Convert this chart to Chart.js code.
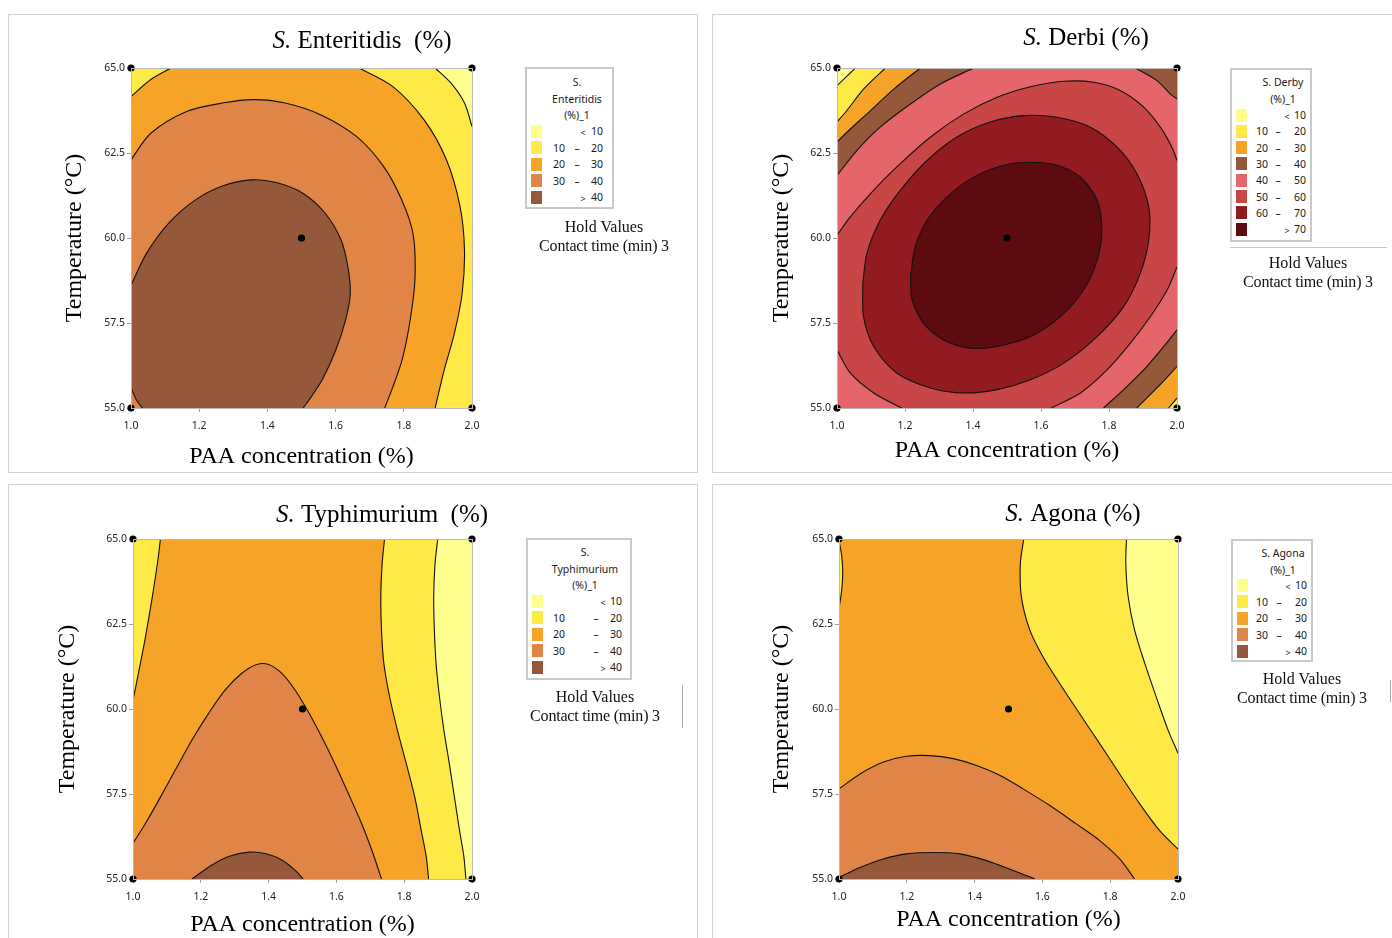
<!DOCTYPE html>
<html>
<head>
<meta charset="utf-8">
<script src="https://cdn.jsdelivr.net/npm/chart.js@4.4.0/dist/chart.umd.min.js"></script>
<style>
html,body{margin:0;padding:0;background:#fff;}
body{width:1392px;height:938px;overflow:hidden;position:relative;}
.panel{position:absolute;border:1px solid #d2d2d2;box-sizing:border-box;}
.cv{position:absolute;}
.lg{position:absolute;border:2px solid #c9c9c9;box-sizing:border-box;background:#fff;}
.t{position:absolute;white-space:nowrap;font-family:'Noto Sans',sans-serif;font-size:10.5px;color:#1a1a1a;line-height:1;}
.sw{position:absolute;width:11px;height:13px;}
.hv{position:absolute;white-space:nowrap;font-family:'Liberation Serif',serif;font-size:16px;color:#111;line-height:1;transform:translate(-50%,-50%);}
.rule{position:absolute;background:#c8c8c8;}
</style>
</head>
<body>
<script>
// ---------------- DATA ----------------
const xRange = [1.0, 2.0];            // PAA concentration (%)
const yRange = [55.0, 65.0];          // Temperature (°C)
const xTicks = [1.0, 1.2, 1.4, 1.6, 1.8, 2.0];
const yTicks = [55.0, 57.5, 60.0, 62.5, 65.0];
const designPoints = [[1.0, 55.0], [1.0, 65.0], [2.0, 55.0], [2.0, 65.0], [1.5, 60.0]];

// S. Enteritidis contour lines [PAA, Temperature]
const ent10  = [[1.892,65.0],[1.938,64.56],[1.978,63.97],[2.0,63.28]];
const ent20a = [[1.0,64.16],[1.058,64.66],[1.117,65.0]];
const ent20b = [[1.669,65.0],[1.767,64.46],[1.859,63.48],[1.925,62.30],[1.965,60.92],[1.978,59.64],[1.971,58.36],[1.948,57.18],[1.918,56.10],[1.892,55.0]];
const ent30  = [[1.0,62.30],[1.058,63.08],[1.163,63.72],[1.268,63.97],[1.360,64.07],[1.452,63.97],[1.557,63.62],[1.662,62.98],[1.741,62.10],[1.794,61.12],[1.827,60.13],[1.833,58.85],[1.820,57.67],[1.796,56.45],[1.768,55.62],[1.744,55.0]];
const ent40a = [[1.0,58.61],[1.045,59.54],[1.110,60.43],[1.189,61.12],[1.268,61.53],[1.353,61.71],[1.426,61.63],[1.505,61.31],[1.570,60.72],[1.616,59.94],[1.636,59.15],[1.643,58.36],[1.629,57.58],[1.600,56.69],[1.562,55.85],[1.530,55.35],[1.505,55.0]];
const ent40b = [[1.0,55.6],[1.015,55.25],[1.033,55.0]];

// S. Derbi contour lines
const der10tl = [[1.054,65.0],[1.0,64.48]];
const der20tl = [[1.142,65.0],[1.078,64.38],[1.029,63.75],[1.0,63.41]];
const der30tl = [[1.245,65.0],[1.167,64.38],[1.088,63.65],[1.029,63.11],[1.0,62.82]];
const der40tl = [[1.402,65.0],[1.304,64.53],[1.216,63.94],[1.127,63.26],[1.059,62.58],[1.0,61.84]];
const der40tr = [[1.877,65.0],[1.941,64.63],[1.980,64.24],[2.0,64.09]];
const der40br = [[2.0,57.30],[1.961,56.81],[1.902,56.12],[1.843,55.54],[1.784,55.0]];
const der30br = [[2.0,56.22],[1.941,55.59],[1.882,55.0]];
const der20br = [[2.0,55.29],[1.975,55.0]];
const der50a = [[1.0,60.08],[1.039,60.62],[1.098,61.30],[1.176,62.09],[1.275,62.97],[1.373,63.65],[1.471,64.14],[1.569,64.45],[1.667,64.61],[1.755,64.58],[1.833,64.34],[1.902,63.85],[1.951,63.26],[1.985,62.67],[2.0,62.28]];
const der50b = [[2.0,59.15],[1.971,58.47],[1.922,57.69],[1.863,56.91],[1.794,56.12],[1.716,55.44],[1.63,55.0]];
const der50c = [[1.19,55.0],[1.108,55.44],[1.039,56.03],[1.0,56.71]];
const der60 = [[1.076,58.67],[1.088,59.55],[1.127,60.52],[1.186,61.40],[1.265,62.28],[1.353,62.97],[1.451,63.41],[1.549,63.60],[1.647,63.55],[1.745,63.26],[1.824,62.67],[1.882,61.89],[1.917,60.91],[1.917,59.94],[1.892,58.96],[1.843,57.98],[1.765,57.10],[1.667,56.32],[1.569,55.83],[1.471,55.54],[1.373,55.44],[1.275,55.59],[1.176,56.03],[1.108,56.81],[1.078,57.69],[1.076,58.67]];
const der70 = [[1.216,58.86],[1.230,59.74],[1.265,60.52],[1.324,61.21],[1.402,61.79],[1.490,62.14],[1.569,62.23],[1.647,62.14],[1.716,61.79],[1.765,61.11],[1.779,60.23],[1.765,59.35],[1.725,58.47],[1.657,57.69],[1.569,57.10],[1.471,56.81],[1.392,56.76],[1.314,57.00],[1.255,57.49],[1.221,58.18],[1.216,58.86]];

// S. Typhimurium contour lines
const typ20l = [[1.081,65.0],[1.072,64.28],[1.057,63.30],[1.037,62.13],[1.018,61.15],[1.0,60.26]];
const typ20r = [[1.742,65.0],[1.735,64.28],[1.731,63.30],[1.733,62.32],[1.740,61.34],[1.757,60.36],[1.780,59.38],[1.806,58.40],[1.831,57.42],[1.850,56.44],[1.865,55.66],[1.872,55.0]];
const typ10r = [[1.899,65.0],[1.891,64.28],[1.887,63.30],[1.889,62.32],[1.894,61.34],[1.904,60.36],[1.917,59.38],[1.933,58.40],[1.948,57.42],[1.963,56.44],[1.976,55.66],[1.982,55.0]];
const typ30 = [[1.0,56.05],[1.037,56.64],[1.076,57.32],[1.125,58.21],[1.174,59.09],[1.223,59.87],[1.272,60.56],[1.321,61.05],[1.365,61.31],[1.400,61.31],[1.439,61.05],[1.478,60.56],[1.517,59.92],[1.556,59.19],[1.595,58.40],[1.635,57.52],[1.674,56.64],[1.708,55.75],[1.733,55.0]];
const typ40 = [[1.174,55.0],[1.233,55.41],[1.282,55.66],[1.341,55.79],[1.390,55.75],[1.439,55.56],[1.478,55.26],[1.502,55.0]];

// S. Agona contour lines
const ago20l = [[1.0,64.95],[1.008,64.5],[1.011,63.99],[1.008,63.5],[1.0,62.95]];
const ago20r = [[1.545,65.0],[1.535,64.28],[1.538,63.30],[1.563,62.32],[1.602,61.53],[1.651,60.75],[1.710,59.86],[1.769,58.98],[1.828,58.09],[1.887,57.21],[1.946,56.42],[2.0,55.88]];
const ago10r = [[1.848,65.0],[1.846,64.28],[1.853,63.30],[1.872,62.32],[1.902,61.34],[1.936,60.35],[1.971,59.37],[2.0,58.70]];
const ago30 = [[1.0,57.65],[1.062,58.09],[1.131,58.44],[1.199,58.61],[1.268,58.63],[1.337,58.54],[1.406,58.34],[1.474,58.05],[1.543,57.65],[1.622,57.16],[1.700,56.62],[1.769,56.13],[1.828,55.59],[1.872,55.0]];
const ago40 = [[1.0,55.05],[1.062,55.34],[1.131,55.59],[1.199,55.74],[1.278,55.78],[1.357,55.74],[1.435,55.54],[1.514,55.25],[1.578,55.0]];

// legend bands
const bands5 = [[null,10],[10,20],[20,30],[30,40],[40,null]];
const bands8 = [[null,10],[10,20],[20,30],[30,40],[40,50],[50,60],[60,70],[70,null]];

// ---------------- STYLE ----------------
const COL = {
  LY:'#FFFF8E', Y:'#FFE946', O:'#F6A328', LB:'#E08447', BR:'#95583A',
  SAL:'#E4666A', RED:'#C94646', DR:'#921B1F', DDR:'#5D0B11'
};
const C_BL=[xRange[0],yRange[0]], C_TL=[xRange[0],yRange[1]], C_TR=[xRange[1],yRange[1]], C_BR=[xRange[1],yRange[0]];
const rev = a => a.slice().reverse();

const panels = [
  {
    box:{left:8,top:14,w:690,h:459}, left:8, top:14, W:689, H:458, L:52, T:54, Yw:71, y2w:225, Xh:64, xtpb:3,
    title:{it:'S.', rest:' Enteritidis  (%)', x:354, y:27},
    bg:'LY',
    regions:[
      {c:'Y',  parts:[C_TL, ent10, C_BR, C_BL]},
      {c:'O',  parts:[ent20a, ent20b, C_BL]},
      {c:'LB', parts:[ent30, C_BL]},
      {c:'BR', parts:[ent40a, rev(ent40b)]}
    ],
    legend:{left:525, top:67, w:89, h:142, title:['S.','Enteritidis','(%)_1'], tx:52, ty0:15, rowY0:64, dy:16.5,
      bands:bands5, colors:['LY','Y','O','LB','BR'], cols:{sw:6, lowR:40, dash:52, highR:78, sym:58},
      hold:{x:604, y:227}}
  },
  {
    box:{left:712,top:14,w:700,h:459}, left:712, top:14, W:690, H:458, L:55, T:54, Yw:70, y2w:225, Xh:64, xtpb:9,
    title:{it:'S.', rest:' Derbi (%)', x:374, y:24},
    bg:'SAL',
    regions:[
      {c:'BR', parts:[C_TL, der40tl]},
      {c:'BR', parts:[C_TR, der40tr]},
      {c:'BR', parts:[C_BR, der40br]},
      {c:'O',  parts:[C_TL, der30tl]},
      {c:'O',  parts:[C_BR, der30br]},
      {c:'Y',  parts:[C_TL, der20tl]},
      {c:'Y',  parts:[C_BR, der20br]},
      {c:'LY', parts:[C_TL, der10tl]},
      {c:'RED', parts:[der50a, der50b, der50c]},
      {c:'DR', parts:[der60]},
      {c:'DDR', parts:[der70]}
    ],
    legend:{left:1230, top:68, w:82, h:174, title:['S. Derby','(%)_1'], tx:53, ty0:14, rowY0:47, dy:16.3,
      bands:bands8, colors:['LY','Y','O','BR','SAL','RED','DR','DDR'], cols:{sw:6, lowR:38, dash:48, highR:76, sym:57},
      hold:{x:1308, y:263}, hrule:{x:1230, y:247, w:157}}
  },
  {
    box:{left:8,top:484,w:690,h:470}, left:8, top:484, W:689, H:470, L:45, T:55, Yw:80, y2w:225, Xh:75, xtpb:17,
    title:{it:'S.', rest:' Typhimurium  (%)', x:374, y:31},
    bg:'O',
    regions:[
      {c:'Y',  parts:[typ20r, C_BR, C_TR]},
      {c:'LY', parts:[typ10r, C_BR, C_TR]},
      {c:'Y',  parts:[C_TL, typ20l]},
      {c:'LB', parts:[typ30, C_BL]},
      {c:'BR', parts:[typ40]}
    ],
    legend:{left:526, top:538, w:106, h:142, title:['S.','Typhimurium','(%)_1'], tx:59, ty0:14, rowY0:63, dy:16.5,
      bands:bands5, colors:['LY','Y','O','LB','BR'], cols:{sw:6, lowR:39, dash:70, highR:96, sym:77},
      hold:{x:595, y:697}, vrule:{x:682, y:685, h:43}}
  },
  {
    box:{left:712,top:484,w:700,h:470}, left:712, top:484, W:690, H:470, L:55, T:55, Yw:72, y2w:224, Xh:75, xtpb:22,
    title:{it:'S.', rest:' Agona (%)', x:361, y:30},
    bg:'O',
    regions:[
      {c:'Y',  parts:[ago20r, C_TR]},
      {c:'LY', parts:[ago10r, C_TR]},
      {c:'Y',  parts:[ago20l]},
      {c:'LB', parts:[ago30, C_BL]},
      {c:'BR', parts:[ago40, C_BL]}
    ],
    legend:{left:1231, top:539, w:82, h:123, title:['S. Agona','(%)_1'], tx:52, ty0:14, rowY0:46, dy:16.5,
      bands:bands5, colors:['LY','Y','O','LB','BR'], cols:{sw:6, lowR:37, dash:48, highR:76, sym:57},
      hold:{x:1302, y:679}, vrule:{x:1390, y:680, h:22}}
  }
];

// ---------------- DRAWING ----------------
const TENSION = 0.3;
const isPiece = part => Array.isArray(part[0]);
// Polygon outline: contour pieces joined along the plot edges. Piece ends and corners
// are doubled so the spline of the fill follows the stroked contour exactly.
function outline(parts) {
  const out = [];
  parts.forEach(part => {
    if (isPiece(part)) {
      out.push(part[0], ...part, part[part.length - 1]);
    } else {
      out.push(part, part);
    }
  });
  return out.map(([x, y]) => ({x, y}));
}

const richTitle = {
  id: 'richTitle',
  afterDraw(chart, args, o) {
    const ctx = chart.ctx;
    ctx.save();
    ctx.textBaseline = 'middle';
    ctx.textAlign = 'left';
    ctx.fillStyle = '#000';
    const fi = 'italic ' + o.size + 'px "Liberation Serif"';
    const fn = o.size + 'px "Liberation Serif"';
    ctx.font = fi; const w1 = ctx.measureText(o.it).width;
    ctx.font = fn; const w2 = ctx.measureText(o.rest).width;
    const x0 = o.x - (w1 + w2) / 2;
    ctx.font = fi; ctx.fillText(o.it, x0, o.y);
    ctx.font = fn; ctx.fillText(o.rest, x0 + w1, o.y);
    ctx.restore();
  }
};

function el(cls, css, text) {
  const d = document.createElement('div');
  d.className = cls;
  d.style.cssText = css;
  if (text !== undefined) d.textContent = text;
  document.body.appendChild(d);
  return d;
}

function makeLegend(g) {
  el('lg', `left:${g.left}px;top:${g.top}px;width:${g.w}px;height:${g.h}px;`);
  g.title.forEach((s, i) => {
    el('t', `left:${g.left + g.tx}px;top:${g.top + g.ty0 + i * 16.5}px;transform:translate(-50%,-50%);`, s);
  });
  g.bands.forEach((b, i) => {
    const y = g.top + g.rowY0 + i * g.dy;
    el('sw', `left:${g.left + g.cols.sw}px;top:${y - 6.5}px;background:${COL[g.colors[i]]};`);
    if (b[0] === null || b[1] === null) {
      el('t', `left:${g.left + g.cols.sym}px;top:${y + 1}px;transform:translate(-50%,-50%);font-size:9px;`, b[0] === null ? '<' : '>');
      el('t', `left:${g.left + g.cols.highR}px;top:${y}px;transform:translate(-100%,-50%);`, String(b[0] === null ? b[1] : b[0]));
    } else {
      el('t', `left:${g.left + g.cols.lowR}px;top:${y}px;transform:translate(-100%,-50%);`, String(b[0]));
      el('t', `left:${g.left + g.cols.dash}px;top:${y}px;transform:translate(-50%,-50%);`, '–');
      el('t', `left:${g.left + g.cols.highR}px;top:${y}px;transform:translate(-100%,-50%);`, String(b[1]));
    }
  });
  el('hv', `left:${g.hold.x}px;top:${g.hold.y}px;`, 'Hold Values');
  el('hv', `left:${g.hold.x}px;top:${g.hold.y + 19}px;letter-spacing:-0.2px;`, 'Contact time (min) 3');
  if (g.hrule) el('rule', `left:${g.hrule.x}px;top:${g.hrule.y}px;width:${g.hrule.w}px;height:1px;`);
  if (g.vrule) el('rule', `left:${g.vrule.x}px;top:${g.vrule.y}px;width:1px;height:${g.vrule.h}px;background:#aaa;`);
}

const tickFont = {family: "'Noto Sans', sans-serif", size: 10.5};
const axisTitleFont = {family: "'Liberation Serif', serif", size: 24, lineHeight: 1};
const frameColor = '#b8b8b8';

function makeChart(p) {
  el('panel', `left:${p.box.left}px;top:${p.box.top}px;width:${p.box.w}px;height:${p.box.h}px;`);
  const cv = document.createElement('canvas');
  cv.className = 'cv';
  cv.width = p.W; cv.height = p.H;
  cv.style.cssText = `left:${p.left}px;top:${p.top}px;width:${p.W}px;height:${p.H}px;`;
  document.body.appendChild(cv);

  const datasets = [];
  // background band covering the whole design space
  datasets.push({
    data: outline([C_BL, C_TL, C_TR, C_BR]), showLine: true, fill: 'shape',
    backgroundColor: COL[p.bg], borderWidth: 0, pointRadius: 0, pointHoverRadius: 0, tension: 0
  });
  p.regions.forEach(r => {
    datasets.push({
      data: outline(r.parts), showLine: true, fill: 'shape',
      backgroundColor: COL[r.c], borderColor: 'rgba(0,0,0,0)', borderWidth: 0,
      pointRadius: 0, pointHoverRadius: 0, tension: TENSION
    });
    r.parts.filter(isPiece).forEach(piece => {
      datasets.push({
        data: piece.map(([x, y]) => ({x, y})), showLine: true, fill: false,
        borderColor: '#111', borderWidth: 1.1,
        pointRadius: 0, pointHoverRadius: 0, tension: TENSION
      });
    });
  });
  datasets.push({
    data: designPoints.map(([x, y]) => ({x, y})),
    showLine: false,
    pointRadius: 3.6,
    pointHoverRadius: 3.6,
    pointBackgroundColor: '#000',
    pointBorderWidth: 0,
    clip: false
  });
  const n = datasets.length;
  datasets.forEach((d, i) => { d.order = n - i; });

  new Chart(cv, {
    type: 'scatter',
    data: {datasets},
    plugins: [richTitle],
    options: {
      responsive: false,
      animation: false,
      events: [],
      layout: {padding: {left: p.L, right: 0, top: p.T, bottom: 0}},
      plugins: {
        legend: {display: false},
        tooltip: {enabled: false},
        title: {display: false},
        richTitle: {it: p.title.it, rest: p.title.rest, x: p.title.x, y: p.title.y, size: 25}
      },
      scales: {
        x: {
          type: 'linear', position: 'bottom', min: xRange[0], max: xRange[1],
          afterBuildTicks: s => { s.ticks = xTicks.map(v => ({value: v})); },
          afterFit: s => { s.height = p.Xh; },
          ticks: {callback: v => Number(v).toFixed(1), font: tickFont, color: '#222', padding: 8, maxRotation: 0, autoSkip: false},
          grid: {drawOnChartArea: false, drawTicks: true, tickLength: 4, color: '#a0a0a0'},
          border: {color: frameColor, z: 1},
          title: {display: true, text: 'PAA concentration (%)', font: axisTitleFont, color: '#000', padding: {top: 0, bottom: p.xtpb}}
        },
        y: {
          type: 'linear', position: 'left', min: yRange[0], max: yRange[1],
          afterBuildTicks: s => { s.ticks = yTicks.map(v => ({value: v})); },
          afterFit: s => { s.width = p.Yw; },
          ticks: {callback: v => Number(v).toFixed(1), font: tickFont, color: '#222', padding: 2, autoSkip: false},
          grid: {drawOnChartArea: false, drawTicks: true, tickLength: 4, color: '#a0a0a0'},
          border: {color: frameColor, z: 1},
          title: {display: true, text: 'Temperature (°C)', font: axisTitleFont, color: '#000', padding: {top: 3, bottom: 0}}
        },
        x2: {
          type: 'linear', position: 'top', min: xRange[0], max: xRange[1],
          ticks: {display: false},
          grid: {drawOnChartArea: false, drawTicks: false},
          border: {color: frameColor, z: 1},
          afterFit: s => { s.height = 0; }
        },
        y2: {
          type: 'linear', position: 'right', min: yRange[0], max: yRange[1],
          ticks: {display: false},
          grid: {drawOnChartArea: false, drawTicks: false},
          border: {color: frameColor, z: 1},
          afterFit: s => { s.width = p.y2w; }
        }
      }
    }
  });
  makeLegend(p.legend);
}

panels.forEach(makeChart);
</script>
</body>
</html>
